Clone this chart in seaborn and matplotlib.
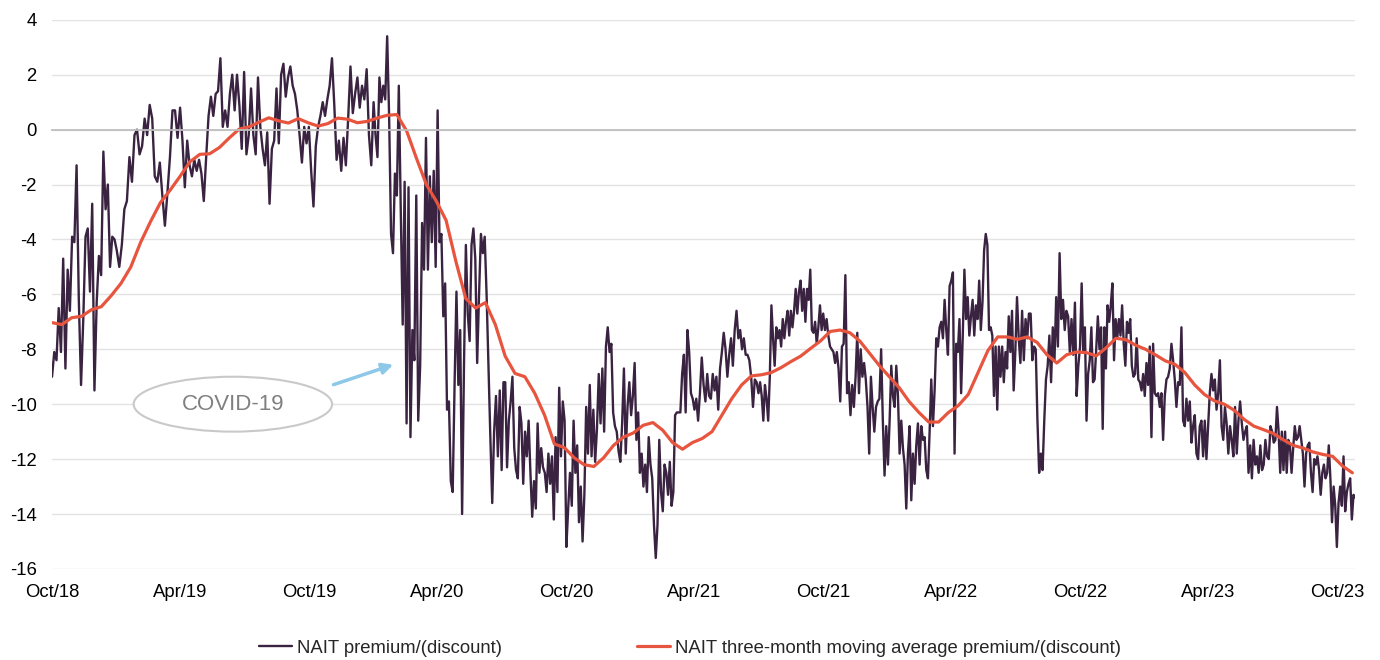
import numpy as np
import pandas as pd
import matplotlib
matplotlib.use("Agg")
import matplotlib.pyplot as plt
import matplotlib.dates as mdates
from matplotlib.patches import Ellipse
import seaborn as sns

# NAIT premium/(discount) in %
q4_2018 = [-9.0, -8.1, -8.4, -6.5, -8.1, -4.7, -8.7, -5.1, -6.6, -3.9, -4.1, -1.3, -6.2, -9.3, -6.9,
           -3.9, -3.6, -5.9, -2.7, -9.5, -6.3, -4.6, -5.3, -0.8, -2.9, -2.0, -5.0, -3.9, -4.0]
q1_2019 = [-4.4, -5.0, -4.2, -2.9, -2.6, -1.0, -1.9, -0.2, 0.0, -0.9, -0.6, 0.4, -0.2, 0.9, 0.4,
           -1.7, -1.9, -1.2, -2.4, -3.5, -2.3, -1.0, 0.7, 0.7, -0.3]
q2_2019 = [0.8, -0.4, -2.1, -0.4, -1.3, -1.7, -1.1, -1.5, -1.1, -1.6, -2.6, -1.0, 0.5, 1.2, 0.5,
           1.3, 1.4, 2.6, 0.1, 0.7, 0.1, 1.3, 2.0, 0.7, 2.0, 0.9, -0.7]
q3_2019 = [2.1, -0.9, -0.2, 1.5, -0.2, -0.9, 1.9, 0.1, -0.7, -1.3, -0.1, -2.7, -0.7, -0.4, 1.5,
           -0.5, 2.0, 2.4, 1.2, 1.9, 2.3, 1.6, 1.3, 0.7, -0.2, -1.2, 0.1, -0.5]
q4_2019 = [0.1, -1.5, -2.8, -0.6, 0.1, 0.5, 1.0, 0.5, 1.1, 1.6, 2.6, 0.9, -1.1, -0.4, -1.5,
           -0.3, -1.3, 0.4, 2.3, 0.6, 1.3, 1.9, 0.8, 1.6, 1.1, 2.2, -0.2, -1.3]
q1_2020 = [1.0, -0.2, -1.0, 1.9, 1.0, 1.6, 1.1, 3.4, 0.5, -3.8, -4.5, -1.6, -2.4, 1.6, -2.9,
           -7.1, -1.9, -10.7, -2.1, -11.2, -7.3, -8.4, -2.4, -10.6, -8.6, -3.4, -5.1, -0.3, -5.1,
           -1.7, -4.1, -1.5, -5.0]
q2_2020 = [0.7, -4.1, -3.8, -6.8, -5.6, -10.2, -9.9, -12.8, -13.2, -9.3, -5.9, -9.3, -7.3, -14.0,
           -8.6, -4.2, -6.7, -7.7, -4.2, -3.6, -4.7, -8.5, -6.0, -3.8, -4.5, -3.9, -6.0, -8.6,
           -11.2, -13.6, -11.0, -9.7, -11.9, -9.5]
q3_2020 = [-12.4, -9.2, -9.2, -12.3, -10.6, -9.9, -9.0, -11.6, -12.4, -12.7, -10.1, -10.7, -12.9,
           -11.0, -11.9, -10.6, -12.5, -14.1, -12.8, -13.8, -10.7, -12.5, -11.6, -12.3, -12.5,
           -13.2, -11.8, -12.9, -11.9, -14.2, -11.2, -13.2, -9.4, -11.9, -9.9, -10.6]
q4_2020 = [-15.2, -13.8, -12.5, -13.7, -10.6, -12.5, -11.5, -14.3, -13.0, -15.0, -13.3, -10.1,
           -11.8, -9.3, -11.9, -10.2, -12.1, -10.9, -8.9, -10.7, -8.7, -11.0, -7.9, -7.2, -8.1,
           -7.8, -10.3, -10.8, -11.0, -11.7, -12.1, -10.7, -8.7, -11.8, -10.1, -9.2]
q1_2021 = [-10.4, -9.7, -8.5, -11.3, -10.3, -12.5, -11.8, -13.0, -12.2, -13.2, -11.2, -12.2, -12.7,
           -14.4, -15.6, -14.4, -11.3, -13.2, -13.9, -12.2, -12.5, -13.3, -12.1, -13.7, -13.2,
           -10.4, -10.3, -10.3, -10.3, -8.9, -8.2, -10.3, -7.3, -8.1, -9.6, -9.8]
q2_2021 = [-10.2, -9.8, -10.6, -9.6, -8.3, -9.3, -9.9, -8.9, -9.7, -9.8, -8.9, -9.5, -9.0, -10.2,
           -8.7, -8.1, -7.4, -8.0, -9.0, -8.2, -7.6, -8.6, -7.3, -6.6, -7.6, -7.3, -8.0, -7.6,
           -8.2, -8.2, -8.4, -9.0, -10.1, -9.1, -9.2]
q3_2021 = [-9.6, -9.2, -9.7, -10.6, -9.3, -9.8, -10.6, -9.0, -6.4, -7.6, -8.6, -7.2, -7.6, -7.3,
           -7.9, -6.9, -7.6, -7.0, -6.6, -7.5, -6.6, -7.2, -6.6, -5.8, -6.7, -5.9, -5.5, -6.6,
           -5.8, -7.0, -5.8, -6.2, -5.1, -7.3, -7.4, -7.0, -7.8, -7.2, -6.4, -7.3]
q4_2021 = [-6.7, -7.3, -6.9, -7.5, -7.9, -8.0, -8.1, -8.5, -8.1, -8.7, -9.9, -7.9, -7.8, -5.3,
           -9.6, -9.2, -10.4, -9.3, -10.1, -9.0, -7.4, -9.6, -8.0, -9.0, -8.5, -9.1, -10.1, -11.8,
           -9.0, -10.1, -11.0, -10.1, -9.9, -9.8, -8.0, -10.6, -12.6, -10.8]
q1_2022 = [-12.2, -10.6, -8.6, -9.7, -10.1, -8.6, -9.7, -11.8, -10.6, -11.6, -12.2, -13.8, -11.8,
           -10.8, -13.5, -11.8, -12.9, -11.5, -10.7, -12.2, -10.8, -11.3, -11.2, -12.4, -12.7,
           -11.0, -9.1, -10.8, -9.5, -7.6, -7.9, -7.2, -7.0, -7.6, -6.2, -7.3, -8.2, -5.7]
q2_2022 = [-5.5, -5.2, -11.8, -7.8, -8.1, -6.9, -9.6, -7.5, -5.1, -6.9, -6.1, -7.5, -6.8, -6.2,
           -7.5, -6.4, -6.9, -5.5, -7.3, -6.3, -4.4, -3.8, -4.2, -7.3, -7.2, -7.5, -9.7, -7.9,
           -10.2, -7.9, -9.0, -7.9, -9.2, -8.1, -8.7, -6.8, -8.1, -6.6, -9.5]
q3_2022 = [-8.1, -6.1, -7.6, -8.5, -6.6, -8.4, -6.9, -7.6, -6.7, -6.7, -8.4, -7.9, -8.0, -10.6,
           -12.5, -11.8, -12.4, -10.6, -9.1, -8.6, -7.5, -9.2, -7.2, -8.4, -6.1, -7.9, -4.5, -6.9,
           -6.2, -7.3, -6.6, -6.8, -8.1, -6.9, -8.2, -6.3, -9.7, -8.6]
q4_2022 = [-7.9, -5.6, -8.1, -7.2, -10.6, -8.9, -8.4, -7.2, -9.2, -9.1, -8.0, -6.8, -8.0, -7.2,
           -10.9, -7.2, -8.7, -6.4, -7.0, -6.4, -5.6, -8.4, -6.9, -7.6, -6.9, -7.5, -6.4, -7.8,
           -8.6, -7.0, -7.4, -6.9, -8.6, -9.0, -8.9, -7.6, -9.1, -9.2, -9.5, -8.9]
q1_2023 = [-9.7, -8.5, -9.3, -7.9, -11.2, -7.8, -9.6, -9.7, -9.6, -10.1, -9.6, -11.3, -9.7, -9.1,
           -9.0, -8.7, -7.8, -8.4, -9.1, -10.1, -9.2, -9.3, -7.2, -10.6, -10.8, -9.8, -10.6, -9.9,
           -11.4, -10.8, -10.4, -11.8, -12.0, -10.8, -10.6, -11.9, -10.6, -12.0]
q2_2023 = [-10.8, -9.6, -8.9, -9.5, -9.1, -10.2, -9.6, -8.4, -10.8, -11.3, -10.1, -10.7, -11.8,
           -10.8, -11.3, -11.9, -10.1, -11.8, -10.6, -9.9, -10.7, -11.3, -11.0, -10.8, -12.5,
           -11.5, -12.7, -11.3, -12.2, -11.9, -12.5, -11.5, -12.4, -12.2, -11.3, -11.9, -12.0, -10.8]
q3_2023 = [-11.0, -11.4, -11.3, -10.1, -11.0, -12.5, -11.0, -12.4, -11.0, -12.5, -11.3, -11.5,
           -12.5, -11.6, -10.8, -11.3, -11.2, -10.8, -11.3, -11.8, -13.0, -11.8, -11.5, -11.4,
           -12.5, -13.2, -12.0, -12.2, -11.9, -12.4, -13.3, -12.5, -12.2, -12.7, -12.5, -11.5,
           -12.7, -14.3, -13.0, -13.7]
oct_2023 = [-15.2, -13.6, -13.0, -13.7, -11.9, -13.9, -13.2, -12.9, -12.7, -14.2, -13.3, -13.4]

quarter_starts = ["2018-10-01", "2019-01-01", "2019-04-01", "2019-07-01", "2019-10-01",
                  "2020-01-01", "2020-04-01", "2020-07-01", "2020-10-01", "2021-01-01",
                  "2021-04-01", "2021-07-01", "2021-10-01", "2022-01-01", "2022-04-01",
                  "2022-07-01", "2022-10-01", "2023-01-01", "2023-04-01", "2023-07-01",
                  "2023-10-01"]
last_day = "2023-10-27"

# three-month moving average, read every two weeks from 1 Oct 2018
moving_avg = [-7.03, -7.1, -6.85, -6.8, -6.56, -6.45, -6.05, -5.6, -5.0, -4.1, -3.35, -2.66, -2.2,
              -1.7, -1.17, -0.9, -0.88, -0.65, -0.3, 0.02, 0.1, 0.27, 0.43, 0.32, 0.24, 0.4, 0.25,
              0.13, 0.22, 0.42, 0.38, 0.25, 0.3, 0.42, 0.52, 0.55, -0.05, -1.05, -2.0, -2.6, -3.3,
              -4.8, -6.15, -6.5, -6.3, -7.1, -8.25, -8.88, -9.0, -9.6, -10.4, -11.45, -11.58,
              -11.95, -12.2, -12.27, -11.95, -11.5, -11.2, -11.05, -10.77, -10.67, -10.95, -11.4,
              -11.64, -11.4, -11.25, -11.0, -10.4, -9.8, -9.3, -8.97, -8.93, -8.85, -8.67, -8.45,
              -8.25, -7.97, -7.7, -7.35, -7.3, -7.4, -7.7, -8.15, -8.6, -9.0, -9.4, -9.9, -10.3,
              -10.65, -10.65, -10.3, -10.05, -9.65, -8.85, -8.05, -7.55, -7.55, -7.64, -7.55,
              -7.75, -8.2, -8.5, -8.2, -8.1, -8.12, -8.24, -7.95, -7.6, -7.65, -7.85, -8.0, -8.2,
              -8.42, -8.55, -8.85, -9.3, -9.65, -9.88, -10.0, -10.22, -10.55, -10.8, -10.93,
              -11.07, -11.3, -11.5, -11.6, -11.74, -11.83, -11.9, -12.25, -12.5]

tick_labels = ["Oct/18", "Apr/19", "Oct/19", "Apr/20", "Oct/20", "Apr/21",
               "Oct/21", "Apr/22", "Oct/22", "Apr/23", "Oct/23"]
tick_dates = pd.date_range("2018-10-01", periods=len(tick_labels), freq="6MS")

# build the daily-ish series: each quarter's readings spread over that quarter
blocks = [q4_2018, q1_2019, q2_2019, q3_2019, q4_2019, q1_2020, q2_2020, q3_2020, q4_2020,
          q1_2021, q2_2021, q3_2021, q4_2021, q1_2022, q2_2022, q3_2022, q4_2022, q1_2023,
          q2_2023, q3_2023, oct_2023]
parts = []
for i, vals in enumerate(blocks):
    if i + 1 < len(quarter_starts):
        d = pd.date_range(quarter_starts[i], quarter_starts[i + 1], periods=len(vals) + 1)[:-1]
    else:
        d = pd.date_range(quarter_starts[i], last_day, periods=len(vals))
    parts.append(pd.DataFrame({"date": d, "value": vals}))
prem = pd.concat(parts, ignore_index=True)

ma = pd.DataFrame({"date": pd.date_range("2018-10-01", periods=len(moving_avg), freq="14D"),
                   "value": moving_avg})

sns.set_theme(style="white")
plt.rcParams["font.family"] = ["Liberation Sans", "DejaVu Sans"]
plt.rcParams["axes.unicode_minus"] = False

fig, ax = plt.subplots(figsize=(13.8, 6.6), dpi=100)
fig.subplots_adjust(left=0.0377, right=0.982, top=0.97, bottom=0.138)

sns.lineplot(data=prem, x="date", y="value", ax=ax, color="#3a2341", linewidth=1.7,
             label="NAIT premium/(discount)", estimator=None)
sns.lineplot(data=ma, x="date", y="value", ax=ax, color="#e8553f", linewidth=2.3,
             label="NAIT three-month moving average premium/(discount)", estimator=None)

ax.set_xlim(pd.Timestamp("2018-10-01"), pd.Timestamp(last_day))
ax.set_ylim(-16, 4)
ax.set_xlabel("")
ax.set_ylabel("")

yt = np.arange(-16, 5, 2)
ax.set_yticks(yt)
ax.set_yticklabels([str(v) for v in yt])
ax.tick_params(axis="y", length=0, pad=11, labelsize=13.3, labelcolor="#000000")
ax.yaxis.grid(True, color="#e3e3e3", linewidth=1)
ax.xaxis.grid(False)
ax.set_axisbelow(True)

for s in ["top", "right", "left"]:
    ax.spines[s].set_visible(False)
ax.spines["bottom"].set_position(("data", 0))
ax.spines["bottom"].set_color("#bfbfbf")
ax.spines["bottom"].set_linewidth(1.3)
ax.set_xticks(mdates.date2num(tick_dates))
ax.tick_params(axis="x", direction="out", length=4, width=1.2, color="#bfbfbf", labelbottom=False)

sec = ax.secondary_xaxis("bottom")
sec.set_xticks(mdates.date2num(tick_dates), labels=tick_labels)
sec.tick_params(length=0, pad=11, labelsize=13.3, labelcolor="#000000")
sec.spines["bottom"].set_visible(False)

# COVID-19 callout
cx = mdates.date2num(pd.Timestamp("2019-06-15"))
ax.add_patch(Ellipse((cx, -10.0), width=282, height=2.0, facecolor="white",
                     edgecolor="#c9c9c9", linewidth=1.5, zorder=3))
ax.text(cx, -10.0, "COVID-19", ha="center", va="center", fontsize=16, color="#808080", zorder=4)
ax.annotate("", xy=(mdates.date2num(pd.Timestamp("2020-01-29")), -8.56),
            xytext=(mdates.date2num(pd.Timestamp("2019-11-05")), -9.29),
            arrowprops=dict(arrowstyle="-|>", color="#8dc8e8", lw=2.5,
                            mutation_scale=16, shrinkA=0, shrinkB=0), zorder=4)

handles, labels = ax.get_legend_handles_labels()
ax.get_legend().remove()
fig.legend(handles, labels, loc="center", bbox_to_anchor=(0.5, 0.018), ncol=2, frameon=False,
           fontsize=13.3, handlelength=1.8, handletextpad=0.25, columnspacing=7.3)

fig.savefig("out.png", dpi=100)
